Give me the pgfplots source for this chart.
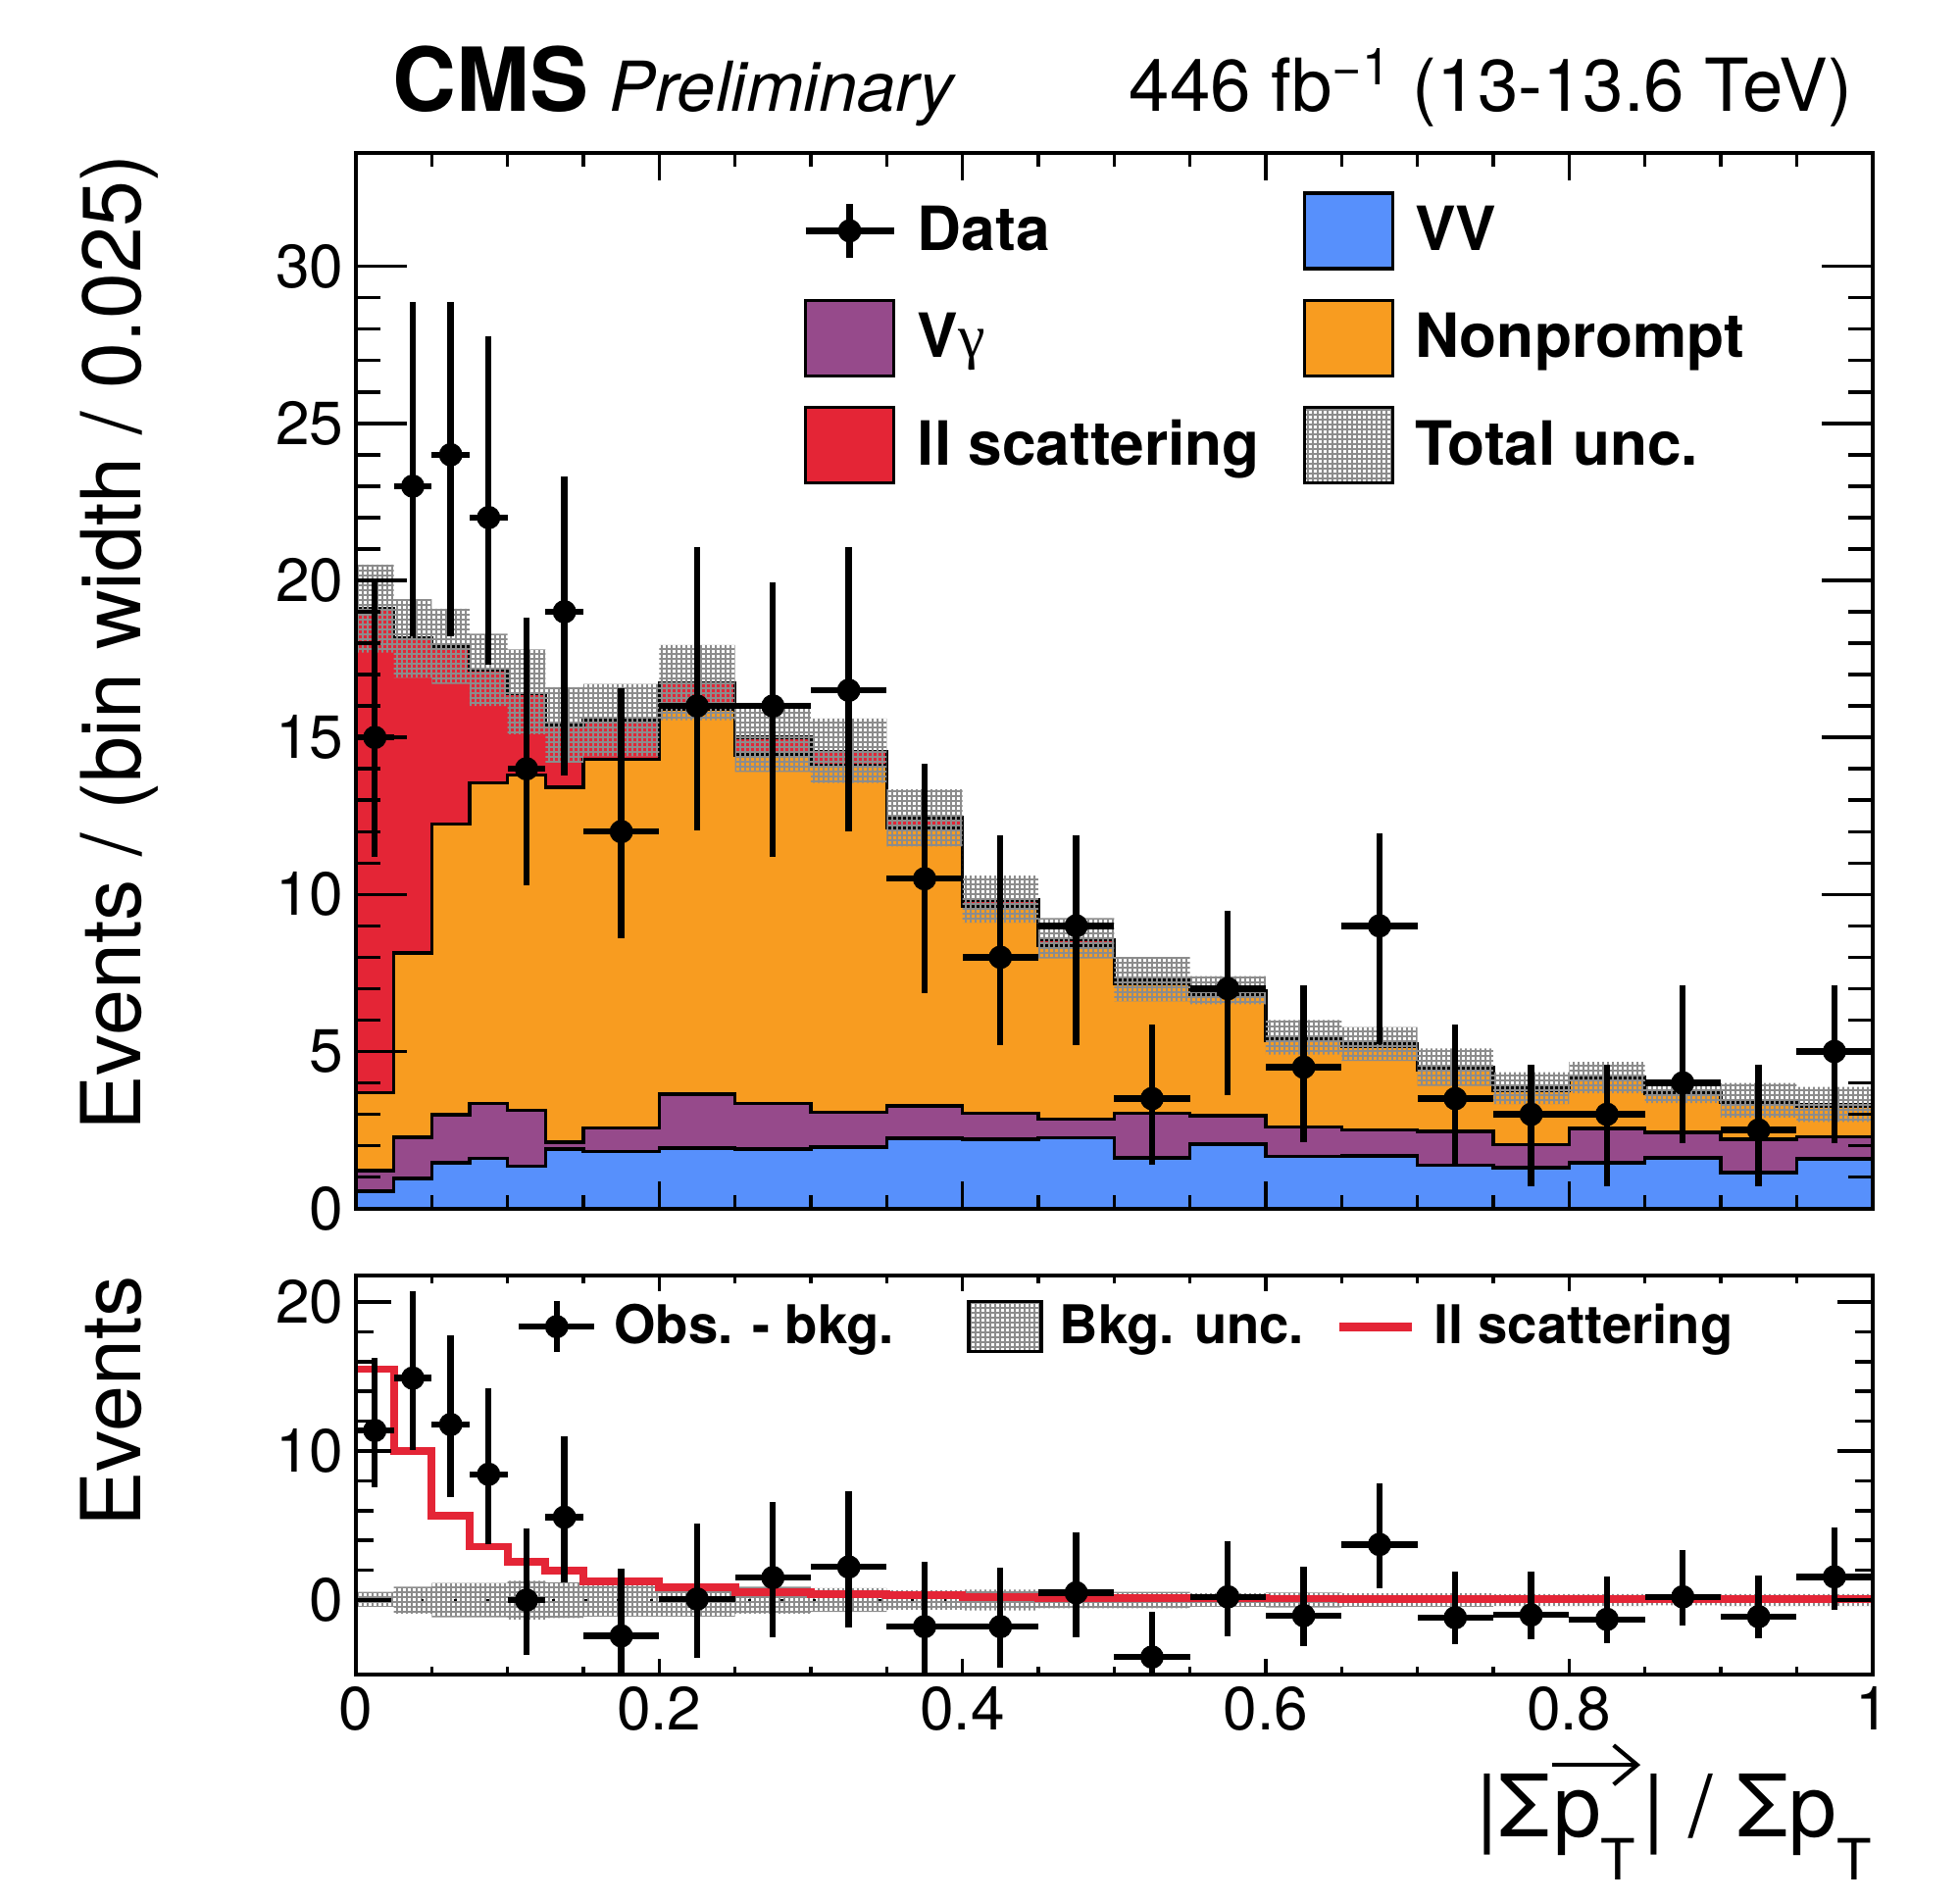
\documentclass[border=0pt]{standalone}
\usepackage{fontspec}
\setmainfont{TeX Gyre Heros}
\newfontfamily\greekfont{Liberation Serif}
\usepackage{pgfplots}
\pgfplotsset{compat=1.18}
\usepackage{pgfplotstable}
\usetikzlibrary{patterns.meta, arrows.meta}
\definecolor{cmsblue}{HTML}{5790FC}
\definecolor{cmsorange}{HTML}{F89C20}
\definecolor{cmsred}{HTML}{E42536}
\definecolor{cmspurple}{HTML}{964A8B}
\definecolor{bandgrey}{RGB}{140,140,140}
\pgfdeclarepattern{
  name=cmsmesh, type=uncolored,
  bottom left={\pgfpointorigin}, top right={\pgfpoint{1.4pt}{1.4pt}},
  tile size={\pgfpoint{1.4pt}{1.4pt}},
  code={
    \pgfpathrectangle{\pgfpointorigin}{\pgfpoint{1.4pt}{0.56pt}}
    \pgfpathrectangle{\pgfpointorigin}{\pgfpoint{0.56pt}{1.4pt}}
    \pgfusepath{fill}
  }
}
\newcommand{\sub}[1]{\raisebox{-4.4mm}{\fontsize{16.5}{18}\selectfont #1}}
\newcommand{\vecpT}{\tikz[baseline=(v.base)]{\node[inner sep=0pt, anchor=base] (v) {p\sub{T}};
  \draw[line width=1.2pt, -{Straight Barb[length=2.4mm, width=4mm, line width=1.2pt]}]
    ([yshift=7.3mm]v.base west) -- ([yshift=7.3mm, xshift=0.4mm]v.base east);}}

% stacked histogram (cumulative tops), left bin edges; last row repeats the last bin
\pgfplotstableread{
x vv vg np tot sig
0.000 0.55 1.20 3.69 19.10 15.50
0.025 0.96 2.27 8.13 18.15 10.00
0.050 1.45 2.99 12.24 17.90 5.65
0.075 1.60 3.35 13.56 17.15 3.58
0.100 1.35 3.12 13.81 16.40 2.55
0.125 1.90 2.12 13.41 15.38 1.97
0.150 1.82 2.57 14.30 15.57 1.27
0.200 1.93 3.65 15.90 16.73 0.84
0.250 1.90 3.35 14.45 15.00 0.55
0.300 1.95 3.06 14.10 14.55 0.42
0.350 2.24 3.27 12.13 12.44 0.31
0.400 2.21 3.04 9.62 9.82 0.20
0.450 2.25 2.85 8.39 8.56 0.15
0.500 1.61 3.04 7.16 7.28 0.12
0.550 2.05 2.96 6.80 6.94 0.12
0.600 1.66 2.60 5.34 5.44 0.10
0.650 1.68 2.50 5.16 5.24 0.08
0.700 1.38 2.45 4.43 4.50 0.07
0.750 1.30 2.03 3.77 3.83 0.06
0.800 1.46 2.55 4.11 4.17 0.06
0.850 1.61 2.43 3.67 3.72 0.05
0.900 1.15 2.21 3.39 3.44 0.05
0.950 1.58 2.29 3.26 3.31 0.05
1.000 1.58 2.29 3.26 3.31 0.05
}\hist

% total-uncertainty band outline: upper edge left->right, lower edge right->left
\pgfplotstableread{
x y
0 20.50
0.025 19.40
0.05 19.10
0.075 18.30
0.1 17.80
0.125 16.60
0.15 16.70
0.2 17.94
0.25 16.10
0.3 15.60
0.35 13.35
0.4 10.60
0.45 9.25
0.5 8.01
0.55 7.40
0.6 6.00
0.65 5.78
0.7 5.10
0.75 4.34
0.8 4.67
0.85 4.08
0.9 4.00
0.95 3.87
1 3.87
1 2.76
0.95 2.90
0.9 3.36
0.85 3.67
0.8 3.33
0.75 3.90
0.7 4.70
0.65 4.90
0.6 6.50
0.55 6.60
0.5 7.96
0.45 9.10
0.4 11.53
0.35 13.55
0.3 13.90
0.25 15.55
0.2 14.40
0.15 14.20
0.125 15.10
0.1 16.00
0.075 16.70
0.05 16.90
0.025 17.70
0 17.70
}\totband

% background-uncertainty band around zero (lower panel)
\pgfplotstableread{
x y
0 0.55
0.025 0.90
0.05 1.15
0.075 1.15
0.1 1.30
0.125 1.20
0.15 1.10
0.2 1.10
0.25 0.90
0.3 0.80
0.35 0.65
0.4 0.70
0.45 0.55
0.5 0.55
0.55 0.45
0.6 0.50
0.65 0.45
0.7 0.45
0.75 0.40
0.8 0.40
0.85 0.35
0.9 0.40
0.95 0.40
1 0.40
1 -0.40
0.95 -0.40
0.9 -0.35
0.85 -0.40
0.8 -0.40
0.75 -0.45
0.7 -0.45
0.65 -0.50
0.6 -0.45
0.55 -0.55
0.5 -0.55
0.45 -0.70
0.4 -0.65
0.35 -0.80
0.3 -0.90
0.25 -1.10
0.2 -1.10
0.15 -1.20
0.125 -1.30
0.1 -1.15
0.075 -1.15
0.05 -0.90
0.025 -0.45
0 -0.45
}\bkgband

% data: upper (y, +ep, -em) and lower obs-bkg (d, +dp, -dm)
\pgfplotstableread{
x ex y ep em d dp dm
0.0125 0.0125 15 4.95 3.80 11.38 4.90 3.80
0.0375 0.0125 23 5.86 4.78 14.89 5.80 4.80
0.0625 0.0125 24 4.86 5.78 11.78 5.95 4.89
0.0875 0.0125 22 5.76 4.67 8.44 5.74 4.71
0.1125 0.0125 14 4.80 3.70 0.00 4.82 3.67
0.1375 0.0125 19 4.30 5.20 5.56 5.44 4.34
0.175 0.025 12 4.56 3.40 -2.40 4.51 3.40
0.225 0.025 16 5.05 3.95 0.07 5.04 3.96
0.275 0.025 16 3.93 4.80 1.51 5.05 4.00
0.325 0.025 16.5 4.55 4.50 2.22 5.11 4.04
0.375 0.025 10.5 3.66 3.65 -1.78 4.34 3.65
0.425 0.025 8 3.87 2.79 -1.78 3.96 2.78
0.475 0.025 9 2.87 3.79 0.49 4.07 2.98
0.525 0.025 3.5 2.35 2.12 -3.82 3.04 2.20
0.575 0.025 7 2.49 3.39 0.22 3.74 2.62
0.625 0.025 4.5 2.60 2.40 -1.04 3.31 2.07
0.675 0.025 9 2.95 3.78 3.73 4.11 2.95
0.725 0.025 3.5 2.36 2.15 -1.18 3.07 1.75
0.775 0.025 3 1.58 2.30 -1.00 2.89 1.62
0.825 0.025 3 1.58 2.30 -1.29 2.89 1.60
0.875 0.025 4 3.10 1.92 0.22 3.16 1.95
0.925 0.025 2.5 2.08 1.80 -1.11 2.78 1.45
0.975 0.025 5 2.10 2.92 1.56 3.28 2.23
}\data

\pgfplotsset{
  cmsaxis/.style={
    scale only axis, width=154.66mm, xmin=0, xmax=1,
    xtick={0,0.2,0.4,0.6,0.8,1}, minor x tick num=3,
    tick align=inside, tick pos=both, axis on top,
    axis line style={line width=1.1pt, black},
    tick style={line width=1.0pt, black},
    tick label style={font=\fontsize{17.7}{20}\selectfont},
    /pgf/number format/assume math mode=true,
  },
  histstyle/.style={const plot mark left, draw=black, line width=1.0pt, forget plot},
  bandstyle/.style={const plot mark left, draw=none, pattern=cmsmesh, pattern color=bandgrey, forget plot},
  dataerr/.style={only marks, mark=*, mark size=3.2pt, black, forget plot,
    error bars/.cd, x dir=both, x explicit, y dir=both, y explicit,
    error mark=none, error bar style={line width=1.8pt, black}},
}

\begin{document}
\begin{tikzpicture}

% ---------------- upper panel ----------------
\begin{axis}[cmsaxis,
  at={(0,0)}, anchor=south west, height=107.64mm,
  ymin=0, ymax=33.6,
  xticklabels={},
  ytick={0,5,10,15,20,25,30}, minor y tick num=4,
  xtick style={/pgfplots/major tick length=2.8mm, /pgfplots/minor tick length=1.4mm},
  ytick style={/pgfplots/major tick length=5.2mm, /pgfplots/minor tick length=2.5mm},
  ylabel={Events / (bin width / 0.025)},
  ylabel style={at={(axis description cs:-0.142,1)}, anchor=base east, inner sep=0pt,
    font=\fontsize{24}{28}\selectfont},
  legend columns=2,
  legend style={draw=none, fill=none, inner sep=0pt,
    at={(axis description cs:0.294,0.9645)}, anchor=north west,
    font=\bfseries\fontsize{17.7}{21}\selectfont,
    cells={anchor=west}, nodes={inner sep=0pt},
    row sep=2.88mm,
    /tikz/every odd column/.append style={column sep=2.1mm},
    /tikz/every even column/.append style={column sep=0pt}},
  extra description/.code={
    \node[anchor=base west, inner sep=0pt] at (0.024,1.0402)
      {{\bfseries\fontsize{25.6}{30}\selectfont CMS}\hspace{2.1mm}{\itshape\fontsize{20}{24}\selectfont Preliminary}};
    \node[anchor=base east, inner sep=0pt, font=\fontsize{21.2}{25}\selectfont] at (0.9873,1.0402)
      {446 fb\textsuperscript{−1} (13-13.6 TeV)};
  },
]
\addplot[histstyle, fill=cmsred] table[x=x, y=tot] \hist \closedcycle;
\addplot[histstyle, fill=cmsorange] table[x=x, y=np] \hist \closedcycle;
\addplot[histstyle, fill=cmspurple] table[x=x, y=vg] \hist \closedcycle;
\addplot[histstyle, fill=cmsblue] table[x=x, y=vv] \hist \closedcycle;
\addplot[bandstyle] table[x=x, y=y] \totband;
\addplot[dataerr] table[x=x, y=y, x error=ex, y error plus=ep, y error minus=em] \data;

\addlegendimage{legend image code/.code={
  \draw[black, line width=1.8pt] (0mm,0mm) -- (9mm,0mm);
  \draw[black, line width=1.8pt] (4.5mm,-2.75mm) -- (4.5mm,2.75mm);
  \fill[black] (4.5mm,0mm) circle (1.12mm);}}
\addlegendentry{\makebox[39.3mm][l]{Data}}
\addlegendimage{legend image code/.code={
  \draw[black, line width=1.0pt, fill=cmsblue] (0mm,-3.85mm) rectangle (9mm,3.85mm);}}
\addlegendentry{VV}
\addlegendimage{legend image code/.code={
  \draw[black, line width=1.0pt, fill=cmspurple] (0mm,-3.85mm) rectangle (9mm,3.85mm);}}
\addlegendentry{\makebox[39.3mm][l]{V{\greekfont\mdseries γ}}}
\addlegendimage{legend image code/.code={
  \draw[black, line width=1.0pt, fill=cmsorange] (0mm,-3.85mm) rectangle (9mm,3.85mm);}}
\addlegendentry{Nonprompt}
\addlegendimage{legend image code/.code={
  \draw[black, line width=1.0pt, fill=cmsred] (0mm,-3.85mm) rectangle (9mm,3.85mm);}}
\addlegendentry{\makebox[39.3mm][l]{ll scattering}}
\addlegendimage{legend image code/.code={
  \draw[black, line width=1.0pt, pattern=cmsmesh, pattern color=bandgrey] (0mm,-3.85mm) rectangle (9mm,3.85mm);}}
\addlegendentry{Total unc.}
\end{axis}

% ---------------- lower panel ----------------
\begin{axis}[cmsaxis,
  at={(0,-6.79mm)}, anchor=north west, height=40.75mm,
  ymin=-5, ymax=21.8,
  ytick={0,10,20}, minor y tick num=4,
  xtick style={/pgfplots/major tick length=1.6mm, /pgfplots/minor tick length=0.8mm},
  ytick style={/pgfplots/major tick length=3.6mm, /pgfplots/minor tick length=1.8mm},
  xlabel={|Σ\vecpT| / Σp\sub{T}},
  xlabel style={at={(axis description cs:1,-0.405)}, anchor=base east, inner sep=0pt,
    font=\fontsize{25}{30}\selectfont},
  ylabel={Events},
  ylabel style={at={(axis description cs:-0.142,1)}, anchor=base east, inner sep=0pt,
    font=\fontsize{24}{28}\selectfont},
  legend columns=3,
  legend style={draw=none, fill=none, inner sep=0pt,
    at={(axis description cs:0.105,0.871)}, anchor=west,
    font=\bfseries\fontsize{15.5}{18}\selectfont,
    cells={anchor=west}, nodes={inner sep=0pt},
    /tikz/every odd column/.append style={column sep=1.7mm},
    /tikz/every even column/.append style={column sep=0pt}},
]
\addplot[bandstyle] table[x=x, y=y] \bkgband;
\addplot[black, line width=0.8pt, dash pattern=on 0.8pt off 3.05mm, forget plot] coordinates {(0,0) (1,0)};
\addplot[const plot mark left, cmsred, line width=2.2pt, forget plot] table[x=x, y=sig] \hist;
\addplot[dataerr] table[x=x, y=d, x error=ex, y error plus=dp, y error minus=dm] \data;

\addlegendimage{legend image code/.code={
  \draw[black, line width=1.8pt] (0mm,0mm) -- (7.7mm,0mm);
  \draw[black, line width=1.8pt] (3.85mm,-2.6mm) -- (3.85mm,2.6mm);
  \fill[black] (3.85mm,0mm) circle (1.12mm);}}
\addlegendentry{\makebox[36mm][l]{Obs. - bkg.}}
\addlegendimage{legend image code/.code={
  \draw[black, line width=1.0pt, pattern=cmsmesh, pattern color=bandgrey] (0mm,-2.55mm) rectangle (7.4mm,2.55mm);}}
\addlegendentry{\makebox[28.1mm][l]{Bkg. unc.}}
\addlegendimage{legend image code/.code={
  \draw[cmsred, line width=2.6pt] (0mm,0mm) -- (7.4mm,0mm);}}
\addlegendentry{ll scattering}
\end{axis}

\pgfresetboundingbox
\path[use as bounding box] (-36.3mm,-70.73mm) rectangle (163.6mm,123.27mm);
\end{tikzpicture}
\end{document}
